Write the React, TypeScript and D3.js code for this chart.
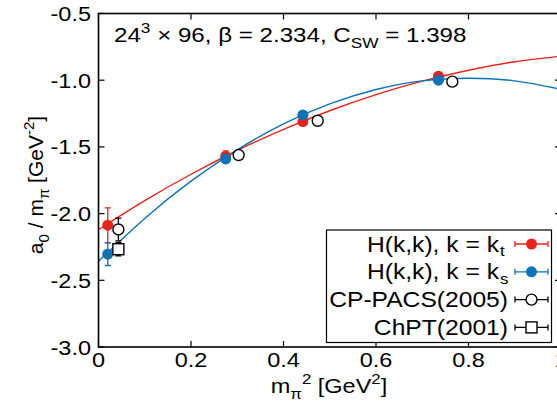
import React from "react";
import * as d3 from "d3";

const W = 557;
const H = 407;

// Data
const kt_x = [0.02, 0.275, 0.442, 0.735];
const kt_y = [-2.087, -1.57, -1.31, -0.97];
const kt_err = [0.13, 0.04, 0.02, 0.02];

const ks_x = [0.02, 0.275, 0.442, 0.735];
const ks_y = [-2.304, -1.59, -1.26, -1.0];
const ks_err = [0.085, 0.02, 0.02, 0.015];

const cp_x = [0.043, 0.303, 0.474, 0.765];
const cp_y = [-2.119, -1.561, -1.304, -1.011];
const cp_err = [0.085, 0.01, 0.01, 0.01];

const chpt_x = [0.043];
const chpt_y = [-2.267];
const chpt_err = [0.05];

// fit curves, read at sample points
const fitKt_x = [0, 0.1, 0.2, 0.3, 0.4, 0.5, 0.6, 0.7, 0.8, 0.9, 1.0];
const fitKt_y = [-2.12, -1.903, -1.705, -1.527, -1.368, -1.229, -1.108, -1.007, -0.925, -0.862, -0.82];
const fitKs_x = [0, 0.1, 0.2, 0.3, 0.4, 0.5, 0.6, 0.7, 0.8, 0.9, 1.0];
const fitKs_y = [-2.357, -2.036, -1.757, -1.522, -1.328, -1.178, -1.07, -1.005, -0.985, -1.005, -1.069];

const xTicks = [0, 0.2, 0.4, 0.6, 0.8, 1.0];
const xTickLabels = ["0", "0.2", "0.4", "0.6", "0.8", "1"];
const yTicks = [-0.5, -1.0, -1.5, -2.0, -2.5, -3.0];
const yTickLabels = ["-0.5", "-1.0", "-1.5", "-2.0", "-2.5", "-3.0"];

const RED = "#e8231a";
const BLUE = "#0a72b8";
const FONT = "'Liberation Sans', Arial, Helvetica, sans-serif";
const SX = 1.12;

function SText(props: {
  x: number;
  y: number;
  anchor?: string;
  size: number;
  sx?: number;
  children: React.ReactNode;
}) {
  const s = props.sx ?? SX;
  return (
    <text
      transform={`translate(${props.x},${props.y}) scale(${s},1)`}
      textAnchor={props.anchor || "start"}
      fontSize={props.size}
      fill="#000"
    >
      {props.children}
    </text>
  );
}

export default function App() {
  const x = d3.scaleLinear().domain([0, 1]).range([98.5, 561]);
  const y = d3.scaleLinear().domain([-3, -0.5]).range([347, 13.5]);
  const left = x(0), right = x(1), top = y(-0.5), bottom = y(-3);
  const tick = 6;

  const curvePath = (xs: number[], ys: number[]) => {
    const pts: [number, number][] = xs.map((v, i) => [x(v), y(ys[i])]);
    return d3.line().curve(d3.curveNatural)(pts) || "";
  };

  const errBar = (xv: number, yv: number, e: number, color: string, key: string) => {
    const cx = x(xv);
    const y1 = y(yv + e);
    const y2 = y(yv - e);
    const cap = 3;
    return (
      <g key={key} stroke={color} strokeWidth={1.3}>
        <line x1={cx} x2={cx} y1={y1} y2={y2} />
        <line x1={cx - cap} x2={cx + cap} y1={y1} y2={y1} />
        <line x1={cx - cap} x2={cx + cap} y1={y2} y2={y2} />
      </g>
    );
  };

  const legendRows = [
    { label: "H(k,k), k = k", sub: "t", color: RED, kind: "filled" },
    { label: "H(k,k), k = k", sub: "s", color: BLUE, kind: "filled" },
    { label: "CP-PACS(2005)", sub: "", color: "#000", kind: "circle" },
    { label: "ChPT(2001)", sub: "", color: "#000", kind: "square" },
  ];

  return (
    <svg
      width={W}
      height={H}
      style={{ position: "absolute", left: 0, top: 0, background: "#fff" }}
      fontFamily={FONT}
    >
      <defs>
        <clipPath id="plotclip">
          <rect x={left} y={top} width={right - left} height={bottom - top} />
        </clipPath>
      </defs>
      <rect x={0} y={0} width={W} height={H} fill="#fff" />

      {/* fit curves */}
      <g clipPath="url(#plotclip)" fill="none" strokeWidth={1.4}>
        <path d={curvePath(fitKt_x, fitKt_y)} stroke={RED} />
        <path d={curvePath(fitKs_x, fitKs_y)} stroke={BLUE} />
      </g>

      {/* frame */}
      <rect x={left} y={top} width={right - left} height={bottom - top} fill="none" stroke="#000" strokeWidth={1.6} />

      {/* ticks */}
      <g stroke="#000" strokeWidth={1.2}>
        {xTicks.map((t, i) => (
          <g key={"xt" + i}>
            <line x1={x(t)} x2={x(t)} y1={bottom} y2={bottom - tick} />
            <line x1={x(t)} x2={x(t)} y1={top} y2={top + tick} />
          </g>
        ))}
        {yTicks.map((t, i) => (
          <g key={"yt" + i}>
            <line x1={left} x2={left + tick} y1={y(t)} y2={y(t)} />
            <line x1={right} x2={right - tick} y1={y(t)} y2={y(t)} />
          </g>
        ))}
      </g>

      {/* tick labels */}
      {xTicks.map((t, i) => (
        <SText key={"xl" + i} x={x(t)} y={367} anchor="middle" size={21}>
          {xTickLabels[i]}
        </SText>
      ))}
      {yTicks.map((t, i) => (
        <SText key={"yl" + i} x={91} y={y(t) + 7.5} anchor="end" size={21}>
          {yTickLabels[i]}
        </SText>
      ))}

      {/* axis labels */}
      <SText x={329} y={393} anchor="middle" size={21}>
        m<tspan fontSize={15} dy={6}>π</tspan>
        <tspan fontSize={15} dy={-15}>2</tspan>
        <tspan fontSize={21} dy={9}> [GeV</tspan>
        <tspan fontSize={15} dy={-9}>2</tspan>
        <tspan fontSize={21} dy={9}>]</tspan>
      </SText>
      <text transform="translate(43,185) rotate(-90)" textAnchor="middle" fontSize={21}>
        a<tspan fontSize={15} dy={6}>0</tspan>
        <tspan fontSize={21} dy={-6}> / m</tspan>
        <tspan fontSize={15} dy={6}>π</tspan>
        <tspan fontSize={21} dy={-6}> [GeV</tspan>
        <tspan fontSize={15} dy={-9}>-2</tspan>
        <tspan fontSize={21} dy={9}>]</tspan>
      </text>

      {/* title */}
      <SText x={114} y={42} size={21} sx={1.15}>
        24<tspan fontSize={15} dy={-9}>3</tspan>
        <tspan dy={9}> × 96, β = 2.334, C</tspan>
        <tspan fontSize={15} dy={6}>SW</tspan>
        <tspan dy={-6}> = 1.398</tspan>
      </SText>

      {/* data */}
      <g clipPath="url(#plotclip)">
        {kt_x.map((v, i) => errBar(v, kt_y[i], kt_err[i], RED, "kte" + i))}
        {kt_x.map((v, i) => (
          <circle key={"kt" + i} cx={x(v)} cy={y(kt_y[i])} r={5.5} fill={RED} />
        ))}
        {ks_x.map((v, i) => errBar(v, ks_y[i], ks_err[i], BLUE, "kse" + i))}
        {ks_x.map((v, i) => (
          <circle key={"ks" + i} cx={x(v)} cy={y(ks_y[i])} r={5.5} fill={BLUE} />
        ))}
        {cp_x.map((v, i) => errBar(v, cp_y[i], cp_err[i], "#000", "cpe" + i))}
        {cp_x.map((v, i) => (
          <circle key={"cp" + i} cx={x(v)} cy={y(cp_y[i])} r={5.5} fill="#fff" stroke="#000" strokeWidth={1.4} />
        ))}
        {chpt_x.map((v, i) => errBar(v, chpt_y[i], chpt_err[i], "#000", "che" + i))}
        {chpt_x.map((v, i) => (
          <rect key={"ch" + i} x={x(v) - 5.5} y={y(chpt_y[i]) - 5.5} width={11} height={11} fill="#fff" stroke="#000" strokeWidth={1.4} />
        ))}
      </g>

      {/* legend */}
      <rect x={326.5} y={230} width={225} height={112.5} fill="#fff" stroke="#000" strokeWidth={1.2} />
      {legendRows.map((r, i) => {
        const cy = 244 + i * 27.8;
        return (
          <g key={"lg" + i}>
            <SText x={r.sub ? 499 : 508} y={cy + 7.5} anchor="end" size={22}>
              {r.label}
            </SText>
            {r.sub && (
              <SText x={500} y={cy + 12} size={15}>
                {r.sub}
              </SText>
            )}
            <g stroke={r.color} strokeWidth={1.3}>
              <line x1={515} x2={548} y1={cy} y2={cy} />
              <line x1={515} x2={515} y1={cy - 3} y2={cy + 3} />
              <line x1={548} x2={548} y1={cy - 3} y2={cy + 3} />
            </g>
            {r.kind === "filled" && <circle cx={531.5} cy={cy} r={5.5} fill={r.color} />}
            {r.kind === "circle" && <circle cx={531.5} cy={cy} r={5.5} fill="#fff" stroke="#000" strokeWidth={1.4} />}
            {r.kind === "square" && (
              <rect x={526} y={cy - 5.5} width={11} height={11} fill="#fff" stroke="#000" strokeWidth={1.4} />
            )}
          </g>
        );
      })}
    </svg>
  );
}
